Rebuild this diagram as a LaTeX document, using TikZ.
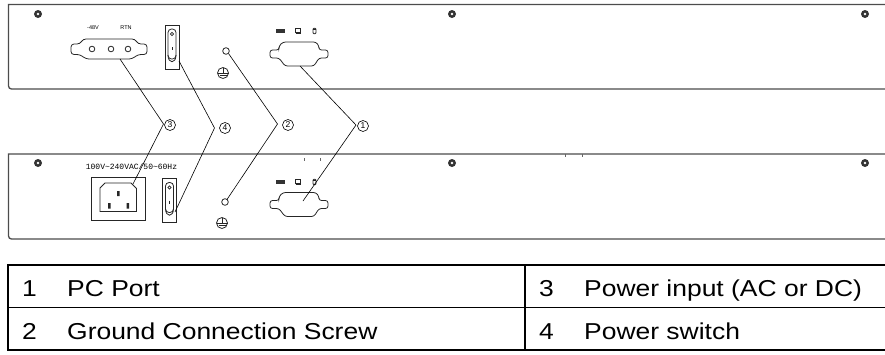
\documentclass[tikz,border=0pt]{standalone}
\usepackage{fontspec}
\setmainfont{Liberation Sans}
\newfontfamily\tabfont{Liberation Sans}[FakeStretch=1.15]
\newfontfamily\cadfont{Liberation Mono}
\begin{document}
\begin{tikzpicture}[x=1pt,y=-1pt]
\tikzset{panel/.style={draw=black!70,line width=1.3pt},
  part/.style={draw=black!85,line width=0.8pt},
  leader/.style={draw=black,line width=0.6pt},
  callout/.style={circle,draw=black,line width=0.6pt,inner sep=0pt,minimum size=11pt,font=\fontsize{8.5}{8.5}\selectfont},
  cell/.style={anchor=base west,inner sep=0pt,font=\tabfont\fontsize{23}{26}\selectfont},
  rule/.style={draw=black,line width=1.5pt}}
\tikzset{screw/.pic={\fill[black!80] (0,0) circle[radius=4]; \fill[white] (0,0) circle[radius=1.4];},
  db9/.pic={\draw[part,rounded corners=2.5pt] (-16,-12) -- (17,-12) -- (20,-8) -- (20,-4) -- (29,-4) -- (29,4) -- (20,4) -- (15,12) -- (-14,12) -- (-20,4) -- (-29,4) -- (-29,-4) -- (-20,-4) -- (-20,-8) -- cycle;},
  rocker/.pic={\draw[part,line width=1pt] (-7,-22) rectangle (7,22);
    \draw[part,rounded corners=3.5pt] (-4,-18) rectangle (4,12);
    \draw[part] (-4,8) .. controls (-4,17) and (4,17) .. (4,8);
    \draw[part] (0,-13) circle[radius=1.6];
    \draw[part] (0,0) -- (0,3);},
  earth/.pic={\draw[part] (0,0) circle[radius=5.5];
    \draw[part] (0,-5.5) -- (0,0) (-5.5,0) -- (5.5,0) (-3.5,2.7) -- (3.5,2.7);},
  icons/.pic={\fill[black!80] (-22,-2) rectangle (-13,2.2);
    \draw[part] (-2.8,-2.5) rectangle (2.8,1.3); \draw[part] (0,1.3) -- (0,2.8) (-2.5,2.8) -- (2.5,2.8);
    \draw[part,rounded corners=1pt] (15,-2.8) rectangle (18,2.8); \draw[part] (15,-1.2) -- (18,-1.2);}}
\useasboundingbox (0,0) rectangle (885,354);
% rear panels
\draw[panel] (885,4.5) -- (8.5,4.5) [rounded corners=3pt] -- (8.5,89) -- (885,89);
\draw[panel] (885,154) -- (8.5,154) [rounded corners=3pt] -- (8.5,239) -- (885,239);
\draw[draw=black!60,line width=0.5pt] (304,158) -- (304,161) (320,158) -- (320,161) (565,154) -- (565,157) (582,154) -- (582,157);
\pic at (38,14) {screw}; \pic at (452,14) {screw}; \pic at (865,14) {screw};
\pic at (38,163) {screw}; \pic at (452,163) {screw}; \pic at (865,163) {screw};
% DC input
\node[font=\fontsize{5.5}{6}\selectfont,inner sep=0pt] (vneg) at (93,28) {-48V};
\node[font=\fontsize{5.5}{6}\selectfont,inner sep=0pt] (vrtn) at (126,28) {RTN};
\draw[part,rounded corners=3pt] (83,39) -- (135,39) -- (138,44) -- (147,44) -- (147,54.5) -- (138,54.5) -- (132,59) -- (86,59) -- (80,54.5) -- (71,54.5) -- (71,44) -- (80,44) -- cycle;
\draw[part] (92,49) circle[radius=2.8] (111,49) circle[radius=2.8] (128,49) circle[radius=2.8];
% AC input
\node[font=\cadfont\fontsize{8}{8}\selectfont,inner sep=0pt] (acrate) at (131.5,167) {100V\char`\~240VAC/50\char`\~60Hz};
\draw[part,line width=1pt] (91,177) rectangle (145,220);
\draw[part] (105,183) -- (131,183) -- (136.5,188.5) -- (136.5,211.5) -- (100,211.5) -- (100,188) -- cycle;
\fill[black!85] (117,191) rectangle (119.5,196) (108,203) rectangle (110.5,208.5) (126.5,203) rectangle (129,208.5);
% switches, ground, PC port
\pic at (172,47) {rocker}; \pic at (169.5,200.5) {rocker};
\draw[part] (226,51) circle[radius=3.3]; \draw[part] (225,202) circle[radius=3.3];
\pic at (223,73) {earth}; \pic at (222,223) {earth};
\pic at (298,31) {icons}; \pic at (298,182) {icons};
\pic at (299,54) {db9}; \pic at (299,204.5) {db9};
% callouts
\node[callout] (c3) at (170,125) {3};
\node[callout] (c4) at (225,128) {4};
\node[callout] (c2) at (288,125) {2};
\node[callout] (c1) at (363,126) {1};
\coordinate (t3) at (163.5,124); \coordinate (t4) at (214.5,128);
\coordinate (t2) at (277.5,124); \coordinate (t1) at (356,125);
\coordinate (dcin) at (120,59); \coordinate (acin) at (133,184);
\coordinate (swtop) at (179,61); \coordinate (swbot) at (175,212);
\coordinate (gndtop) at (228.5,53.5); \coordinate (gndbot) at (227,199.5);
\coordinate (pctop) at (300,66); \coordinate (pcbot) at (303,201);
\draw[leader] (dcin) -- (t3) -- (acin);
\draw[leader] (swtop) -- (t4) -- (swbot);
\draw[leader] (gndtop) -- (t2) -- (gndbot);
\draw[leader] (pctop) -- (t1) -- (pcbot);
% legend table
\draw[rule] (885,265) -- (8,265) -- (8,350) -- (885,350);
\draw[rule] (8,307.5) -- (885,307.5) (525,265) -- (525,350);
\node[cell] (n1) at (22,296) {1}; \node[cell] (l1) at (67,296) {PC Port};
\node[cell] (n2) at (22,339) {2}; \node[cell] (l2) at (67,339) {Ground Connection Screw};
\node[cell] (n3) at (539,296) {3}; \node[cell] (l3) at (584,296) {Power input (AC or DC)};
\node[cell] (n4) at (539,339) {4}; \node[cell] (l4) at (584,339) {Power switch};
\end{tikzpicture}
\end{document}
